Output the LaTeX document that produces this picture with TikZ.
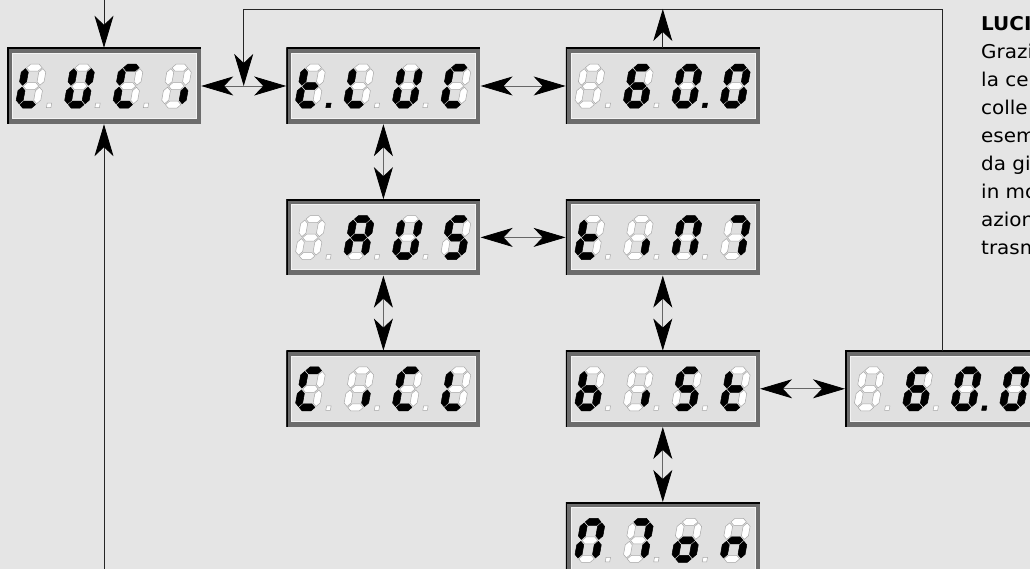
\documentclass[tikz,border=0pt]{standalone}
\usepackage{fontspec}
\setmainfont[FakeStretch=1.05]{DejaVu Sans}
\usetikzlibrary{positioning,calc,arrows.meta}

\definecolor{bgc}{RGB}{229,229,229}
\definecolor{panelc}{RGB}{224,224,224}
\definecolor{framec}{RGB}{108,108,108}

% the seven segments of one digit (a top, b/c right, d bottom, e/f left, g middle)
\newcommand{\sega}{(4.5,40.5)--(8,44)--(16.5,44)--(20,40.5)--(16.5,37)--(8,37)--cycle}
\newcommand{\segb}{(21,23)--(24.5,26.5)--(24.5,36)--(21,39.5)--(17.5,36)--(17.5,26.5)--cycle}
\newcommand{\segc}{(21,4.5)--(24.5,8)--(24.5,17.5)--(21,21)--(17.5,17.5)--(17.5,8)--cycle}
\newcommand{\segd}{(4.5,3.5)--(8,7)--(16.5,7)--(20,3.5)--(16.5,0)--(8,0)--cycle}
\newcommand{\sege}{(3.5,4.5)--(7,8)--(7,17.5)--(3.5,21)--(0,17.5)--(0,8)--cycle}
\newcommand{\segf}{(3.5,23)--(7,26.5)--(7,36)--(3.5,39.5)--(0,36)--(0,26.5)--cycle}
\newcommand{\segg}{(4.5,22)--(8,25.5)--(16.5,25.5)--(20,22)--(16.5,18.5)--(8,18.5)--cycle}
\newcommand{\dpbox}{(31.5,0.5) rectangle (36,5)}

% #1 display node, #2 digit index, #3 lit segments, #4 decimal point
\newcommand{\drawdigit}[4]{%
  \begin{scope}[shift={($(#1.south west)+(8+48.5*#2,16)$)}, xslant=0.18]
    \foreach \s in {a,...,g} {\edef\segpath{\csname seg\s\endcsname}\draw[segoff] \segpath;}
    \foreach \s in {#3} {\ifcsname seg\s\endcsname\edef\segpath{\csname seg\s\endcsname}\draw[segon] \segpath;\fi}
    \ifnum#2<3 \ifnum#4=1 \draw[segon] \dpbox; \else \draw[segoff] \dpbox; \fi\fi
  \end{scope}}
\newcommand{\showdisp}[5]{%
  \drawdigit{#1}{0}#2\drawdigit{#1}{1}#3\drawdigit{#1}{2}#4\drawdigit{#1}{3}#5}

\begin{document}
\begin{tikzpicture}[x=1pt, y=1pt,
  disp/.style={rectangle, minimum width=194pt, minimum height=76pt, inner sep=0pt, fill=framec,
    path picture={
      \fill[panelc, draw=white!60!panelc] ([shift={(5,-5)}]path picture bounding box.north west)
        rectangle ([shift={(-5,6)}]path picture bounding box.south east);
      \draw[black, line width=3pt] (path picture bounding box.south west)
        |- (path picture bounding box.north east);}},
  segoff/.style={fill=white, draw=gray!70, line width=0.5pt},
  segon/.style={fill=black, draw=black, line width=0.5pt},
  >={Stealth[length=32pt, width=19pt, inset=9pt, color=black]},
  link/.style={<->, draw=black!60, line width=0.8pt},
  flow/.style={->, draw=black!85, line width=0.9pt},
  riga/.style={anchor=base west, inner sep=0pt, font=\fontsize{19}{28}\selectfont}]

  \useasboundingbox (0,0) rectangle (1030,569);
  \clip (0,0) rectangle (1030,569);
  \fill[bgc] (0,0) rectangle (1030,569);

  \coordinate (cima) at (0,569);
  \coordinate (fondo) at (0,0);
  \coordinate (soffitto) at (0,560);

  % displays
  \node[disp] (luci) at (104,483) {};
  \node[disp, right=85pt of luci] (tluc) {};
  \node[disp, right=85pt of tluc] (tempo) {};
  \node[disp, below=75pt of tluc] (aus) {};
  \node[disp, right=85pt of aus] (tinm) {};
  \node[disp, below=75pt of aus] (cicl) {};
  \node[disp, below=75pt of tinm] (bist) {};
  \node[disp, right=85pt of bist] (tempob) {};
  \node[disp, below=75pt of bist] (mmon) {};

  \showdisp{luci}{{f,e,d}{0}}{{b,c,d,e,f}{0}}{{a,f,e,d}{0}}{{c}{0}}
  \showdisp{tluc}{{f,e,d,g}{1}}{{f,e,d}{0}}{{b,c,d,e,f}{0}}{{a,f,e,d}{0}}
  \showdisp{tempo}{{}{0}}{{a,f,g,e,d,c}{0}}{{a,b,c,d,e,f}{1}}{{a,b,c,d,e,f}{0}}
  \showdisp{aus}{{}{0}}{{a,b,c,e,f,g}{0}}{{b,c,d,e,f}{0}}{{a,f,g,c,d}{0}}
  \showdisp{tinm}{{f,e,d,g}{0}}{{c}{0}}{{a,b,c,e,f}{0}}{{a,b,c}{0}}
  \showdisp{cicl}{{a,f,e,d}{0}}{{c}{0}}{{a,f,e,d}{0}}{{f,e,d}{0}}
  \showdisp{bist}{{f,e,d,c,g}{0}}{{c}{0}}{{a,f,g,c,d}{0}}{{f,e,d,g}{0}}
  \showdisp{tempob}{{}{0}}{{a,f,g,e,d,c}{0}}{{a,b,c,d,e,f}{1}}{{a,b,c,d,e,f}{0}}
  \showdisp{mmon}{{a,b,c,e,f}{0}}{{a,b,c}{0}}{{c,d,e,g}{0}}{{c,e,g}{0}}

  % connectors
  \draw[link] (luci) -- (tluc);
  \draw[link] (tluc) -- (tempo);
  \draw[link] (tluc) -- (aus);
  \draw[link] (aus) -- (tinm);
  \draw[link] (aus) -- (cicl);
  \draw[link] (tinm) -- (bist);
  \draw[link] (bist) -- (tempob);
  \draw[link] (bist) -- (mmon);

  \draw[flow] (luci.north |- cima) -- (luci);
  \draw[flow] (luci.south |- fondo) -- (luci);

  \coordinate (nodo) at ($(luci.east)!0.5!(tluc.west)$);
  \draw[flow] (tempob.north) |- (nodo |- soffitto) -- (nodo);
  \draw[flow] (tempo.north) -- (tempo.north |- soffitto);

  % text column
  \node[riga, font=\fontsize{19}{28}\selectfont\bfseries] (titolo) at (981,538) {LUCI};
  \foreach \t [count=\i] in {Grazi,la ce,colle,esem,da gi,in mo,azion,trasm}
    \node[riga] (riga\i) at (981,538-28*\i) {\t};
\end{tikzpicture}
\end{document}
